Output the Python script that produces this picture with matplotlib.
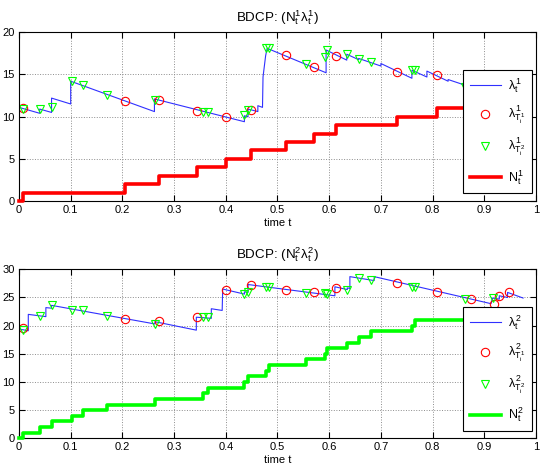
import numpy as np
import matplotlib
matplotlib.use('Agg')
import matplotlib.pyplot as plt

plt.rcParams['font.family'] = ['Liberation Sans', 'DejaVu Sans']
plt.rcParams['font.size'] = 8
plt.rcParams['mathtext.fontset'] = 'custom'
plt.rcParams['mathtext.rm'] = 'Liberation Sans'
plt.rcParams['mathtext.it'] = 'Liberation Sans'

# event times of the two processes
t1_events = [0.008, 0.205, 0.27, 0.345, 0.4, 0.448, 0.516, 0.570, 0.613,
             0.732, 0.808, 0.874, 0.918, 0.929, 0.947]
t2_events = [0.007, 0.0405, 0.063, 0.1035, 0.123, 0.171, 0.263, 0.356, 0.365,
             0.436, 0.442, 0.478, 0.483, 0.555, 0.592, 0.595, 0.635, 0.658,
             0.680, 0.761, 0.766, 0.862, 0.916]
t_end = 0.975

# intensity paths (vertices)
lam1_t = [0.0, 0.04, 0.04, 0.063, 0.063, 0.1, 0.1, 0.262, 0.262, 0.436, 0.436,
          0.443, 0.443, 0.462, 0.462, 0.471, 0.472, 0.477, 0.48, 0.594, 0.594,
          0.634, 0.634, 0.657, 0.657, 0.700, 0.700, 0.760, 0.760, 0.789, 0.789,
          0.830, 0.830, 0.874, 0.874, 0.916, 0.916, 0.947, 0.947, t_end]
lam1_v = [11.1, 10.4, 10.9, 10.5, 12.2, 11.5, 14.2, 10.6, 12.1, 9.4, 10.1,
          10.0, 10.9, 10.6, 11.3, 11.1, 14.7, 17.2, 18.1, 15.2, 17.9,
          16.7, 17.4, 16.75, 16.9, 16.0, 16.3, 14.55, 15.5, 14.7, 15.4,
          14.2, 14.4, 13.5, 13.9, 13.1, 13.8, 13.3, 14.7, 14.2]

lam2_t = [0.0, 0.018, 0.018, 0.052, 0.052, 0.063, 0.063, 0.263, 0.263, 0.343,
          0.343, 0.372, 0.372, 0.393, 0.394, 0.436, 0.436, 0.443, 0.443, 0.611,
          0.611, 0.635, 0.635, 0.640, 0.640, 0.687, 0.687, 0.913, 0.916, 0.929,
          0.929, 0.945, 0.945, t_end]
lam2_v = [19.4, 19.1, 22.0, 21.6, 23.2, 23.1, 23.6, 20.3, 20.7, 19.2,
          21.5, 21.3, 23.0, 22.7, 26.5, 25.6, 26.0, 25.9, 27.3, 25.3,
          26.9, 26.4, 26.7, 26.6, 28.7, 28.0, 28.7, 23.9, 24.9, 24.7,
          25.3, 25.0, 25.9, 24.9]

# intensity values at event times
lam1_at_t1 = [11.0, 11.8, 12.0, 10.7, 10.0, 10.8, 17.3, 15.9, 17.2, 15.3, 14.9,
              13.4, 13.5, 13.3, 14.7]
lam1_at_t2 = [10.9, 10.9, 11.2, 14.2, 13.7, 12.6, 12.0, 10.5, 10.6, 10.2, 10.8,
              18.1, 18.1, 16.3, 17.1, 17.9, 17.4, 16.8, 16.45, 15.5, 15.5, 13.5,
              13.6]
lam2_at_t1 = [19.5, 21.2, 20.8, 21.6, 26.4, 27.3, 26.3, 25.9, 26.7, 27.5, 25.9,
              24.7, 23.85, 25.3, 25.9]
lam2_at_t2 = [19.2, 21.7, 23.6, 22.8, 22.7, 21.7, 20.3, 21.5, 21.5, 25.6, 26.0,
              26.8, 26.8, 25.8, 25.8, 25.7, 26.3, 28.4, 28.1, 26.8, 26.8, 24.8,
              24.9]

xticks = [0, 0.1, 0.2, 0.3, 0.4, 0.5, 0.6, 0.7, 0.8, 0.9, 1]
xticklabels = ['0', '0.1', '0.2', '0.3', '0.4', '0.5', '0.6', '0.7', '0.8', '0.9', '1']

fig = plt.figure(figsize=(5.44, 4.70), dpi=100)
ax1 = fig.add_axes([0.0349, 0.5723, 0.9504, 0.359])
ax2 = fig.add_axes([0.0349, 0.0674, 0.9504, 0.3596])

panels = [
    (ax1, 1, lam1_t, lam1_v, lam1_at_t1, lam1_at_t2, t1_events, 'red', 20, [0, 5, 10, 15, 20]),
    (ax2, 2, lam2_t, lam2_v, lam2_at_t1, lam2_at_t2, t2_events, (0, 1, 0), 30, [0, 5, 10, 15, 20, 25, 30]),
]

for ax, k, lt, lv, at1, at2, ev, ncol, ymax, yticks in panels:
    ax.plot(lt, lv, color='#3030ff', lw=0.8, label=r'$\lambda_t^%d$' % k)
    ax.plot(t1_events, at1, 'o', ms=6, mfc='none', mec='red', mew=0.8,
            label=r'$\lambda^%d_{T^1_i}$' % k)
    ax.plot(t2_events, at2, 'v', ms=6, mfc='none', mec=(0, 1, 0), mew=0.8,
            label=r'$\lambda^%d_{T^2_i}$' % k)
    counts = list(range(len(ev) + 1)) + [len(ev)]
    times = [0.0] + ev + [t_end]
    ax.plot(times, counts, drawstyle='steps-post', color=ncol, lw=2.6,
            label=r'$N_t^%d$' % k, clip_on=False, zorder=3)

    ax.set_xlim(0, 1)
    ax.set_ylim(0, ymax)
    ax.set_xticks(xticks)
    ax.set_xticklabels(xticklabels)
    ax.set_yticks(yticks)
    ax.tick_params(direction='in', top=True, right=True, length=4, pad=3)
    ax.grid(True, linestyle=':', color='0.55', lw=0.7)
    ax.set_xlabel('time t', labelpad=2)
    ax.set_title(r'BDCP: (N$_t^%d$$\lambda_t^%d$)' % (k, k), pad=8)
    for s in ax.spines.values():
        s.set_linewidth(0.8)

    leg = ax.legend(loc='lower right', bbox_to_anchor=(0.992, 0.047 if k == 1 else 0.045),
                    fancybox=False, framealpha=1, edgecolor='black',
                    labelspacing=0.78, handlelength=2.5, handletextpad=0.6,
                    borderpad=0.5, borderaxespad=0, fontsize=9)
    leg.get_frame().set_linewidth(0.8)

fig.savefig('out.png', dpi=100)
